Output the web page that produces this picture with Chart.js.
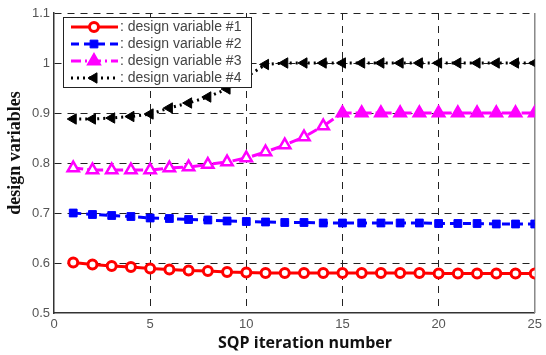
<!DOCTYPE html>
<html>
<head>
<meta charset="utf-8">
<script src="https://cdn.jsdelivr.net/npm/chart.js@4/dist/chart.umd.min.js"></script>
<style>
  html, body { margin: 0; padding: 0; background: #fff; }
  canvas { display: block; }
</style>
</head>
<body>
<canvas id="chart" width="546" height="355"></canvas>
<script>
// iteration numbers and the four design variables
const iterations = [1, 2, 3, 4, 5, 6, 7, 8, 9, 10, 11, 12, 13, 14, 15, 16, 17, 18, 19, 20, 21, 22, 23, 24, 25];
const variable1 = [0.601, 0.597, 0.594, 0.592, 0.589, 0.587, 0.585, 0.584, 0.582, 0.581, 0.580, 0.580, 0.580, 0.580, 0.580, 0.580, 0.580, 0.580, 0.580, 0.579, 0.579, 0.579, 0.579, 0.579, 0.579];
const variable2 = [0.700, 0.697, 0.695, 0.693, 0.690, 0.689, 0.687, 0.686, 0.684, 0.683, 0.682, 0.681, 0.681, 0.680, 0.680, 0.680, 0.680, 0.680, 0.680, 0.679, 0.679, 0.679, 0.678, 0.678, 0.678];
const variable3 = [0.790, 0.786, 0.786, 0.786, 0.786, 0.790, 0.792, 0.797, 0.802, 0.810, 0.822, 0.836, 0.852, 0.874, 0.900, 0.900, 0.900, 0.900, 0.900, 0.900, 0.900, 0.900, 0.900, 0.900, 0.900];
const variable4 = [0.888, 0.888, 0.890, 0.893, 0.898, 0.910, 0.920, 0.932, 0.948, 0.972, 0.997, 1.000, 1.000, 1.000, 1.000, 1.000, 1.000, 1.000, 1.000, 1.000, 1.000, 1.000, 1.000, 1.000, 1.000];
const seriesNames = [': design variable #1', ': design variable #2', ': design variable #3', ': design variable #4'];
const xTicks = [0, 5, 10, 15, 20, 25];
const yTicks = [0.5, 0.6, 0.7, 0.8, 0.9, 1.0, 1.1];

const pts = arr => arr.map((v, i) => ({ x: iterations[i], y: v }));

const datasets = [
  {
    label: seriesNames[0], data: pts(variable1),
    borderColor: '#ff0000', borderWidth: 3,
    pointStyle: 'circle', pointRadius: 4.5, pointBorderWidth: 3,
    pointBorderColor: '#ff0000', pointBackgroundColor: '#ffffff'
  },
  {
    label: seriesNames[1], data: pts(variable2),
    borderColor: '#0000ff', borderWidth: 3, borderDash: [8, 5],
    pointStyle: 'rect', pointRadius: 5.5, pointBorderWidth: 1,
    pointBorderColor: '#0000ff', pointBackgroundColor: '#0000ff'
  },
  {
    label: seriesNames[2], data: pts(variable3),
    borderColor: '#ff00ff', borderWidth: 3, borderDash: [10, 4, 2, 4],
    pointStyle: 'triangle', pointRadius: 6.5, pointBorderWidth: 2.5,
    pointBorderColor: '#ff00ff',
    pointBackgroundColor: ctx => ctx.dataIndex >= 14 ? '#ff00ff' : '#ffffff'
  },
  {
    label: seriesNames[3], data: pts(variable4),
    borderColor: '#000000', borderWidth: 3, borderDash: [2, 4],
    pointStyle: 'triangle', pointRotation: -90, pointRadius: 6, pointBorderWidth: 1,
    pointBorderColor: '#000000', pointBackgroundColor: '#000000'
  }
];

// boxed legend in the top-left corner, titles, and right frame line
const framePlugin = {
  id: 'frame',
  beforeDatasetsDraw(chart) {
    const { ctx, chartArea } = chart;
    ctx.save();
    ctx.strokeStyle = '#888';
    ctx.lineWidth = 1.5;
    ctx.beginPath();
    ctx.moveTo(chartArea.right, chartArea.top);
    ctx.lineTo(chartArea.right, chartArea.bottom);
    ctx.stroke();
    ctx.restore();
  },
  afterDraw(chart) {
    const { ctx } = chart;
    ctx.save();
    // legend box
    const bx = 63, by = 17, bw = 188, bh = 70;
    ctx.fillStyle = '#fff';
    ctx.fillRect(bx, by, bw, bh);
    ctx.strokeStyle = '#222';
    ctx.lineWidth = 1;
    ctx.strokeRect(bx + 0.5, by + 0.5, bw, bh);
    chart.data.datasets.forEach((ds, i) => {
      const y = by + 10 + i * 17;
      ctx.strokeStyle = ds.borderColor;
      ctx.lineWidth = ds.borderWidth;
      ctx.setLineDash(ds.borderDash || []);
      ctx.beginPath();
      ctx.moveTo(71, y);
      ctx.lineTo(118, y);
      ctx.stroke();
      ctx.setLineDash([]);
      const bg = typeof ds.pointBackgroundColor === 'function' ? ds.borderColor : ds.pointBackgroundColor;
      ctx.fillStyle = bg;
      ctx.strokeStyle = ds.pointBorderColor;
      ctx.lineWidth = ds.pointBorderWidth;
      Chart.helpers.drawPoint(ctx, {
        pointStyle: ds.pointStyle, rotation: ds.pointRotation || 0,
        radius: ds.pointRadius, borderWidth: ds.pointBorderWidth
      }, 94, y);
      ctx.fillStyle = '#444';
      ctx.font = '14px "Liberation Sans", Arial, sans-serif';
      ctx.textAlign = 'left';
      ctx.textBaseline = 'middle';
      ctx.fillText(ds.label, 120, y);
    });
    // axis titles
    ctx.fillStyle = '#111';
    ctx.font = 'bold 16px "Open Sans", "Noto Sans", sans-serif';
    ctx.textAlign = 'center';
    ctx.textBaseline = 'middle';
    ctx.fillText('SQP iteration number', 305, 343);
    ctx.translate(15, 153);
    ctx.rotate(-Math.PI / 2);
    ctx.font = 'bold 18px "Liberation Serif", "Times New Roman", serif';
    ctx.fillText('design variables', 0, 0);
    ctx.restore();
  }
};

const gridDash = [7, 6];
const fmt = v => String(Number(v.toFixed(1)));

new Chart(document.getElementById('chart'), {
  type: 'line',
  data: { datasets },
  options: {
    responsive: false,
    animation: false,
    layout: { padding: { top: 13, right: 7, left: 0, bottom: 0 } },
    plugins: { legend: { display: false }, tooltip: { enabled: false } },
    scales: {
      x: {
        type: 'linear', min: 0, max: 25,
        afterBuildTicks: s => { s.ticks = xTicks.map(v => ({ value: v })); },
        afterFit: s => { s.height = 42; },
        ticks: { color: '#555', padding: 4, font: { size: 13, family: '"Liberation Sans", Arial, sans-serif' }, callback: v => fmt(v) },
        grid: {
          color: c => (c.tick && (c.tick.value === 0 || c.tick.value === 25)) ? 'rgba(0,0,0,0)' : '#222',
          lineWidth: 1, drawTicks: false
        },
        border: { display: true, color: '#333', width: 1.5, dash: gridDash }
      },
      y: {
        type: 'linear', min: 0.5, max: 1.1,
        afterBuildTicks: s => { s.ticks = yTicks.map(v => ({ value: v })); },
        afterFit: s => { s.width = 54; },
        ticks: { color: '#555', padding: 4, font: { size: 13, family: '"Liberation Sans", Arial, sans-serif' }, callback: v => fmt(v) },
        grid: {
          color: c => (c.tick && c.tick.value === 0.5) ? 'rgba(0,0,0,0)' : '#222',
          lineWidth: 1, drawTicks: false
        },
        border: { display: true, color: '#333', width: 1.5, dash: gridDash }
      }
    },
    elements: { line: { tension: 0 } }
  },
  plugins: [framePlugin]
});
</script>
</body>
</html>
